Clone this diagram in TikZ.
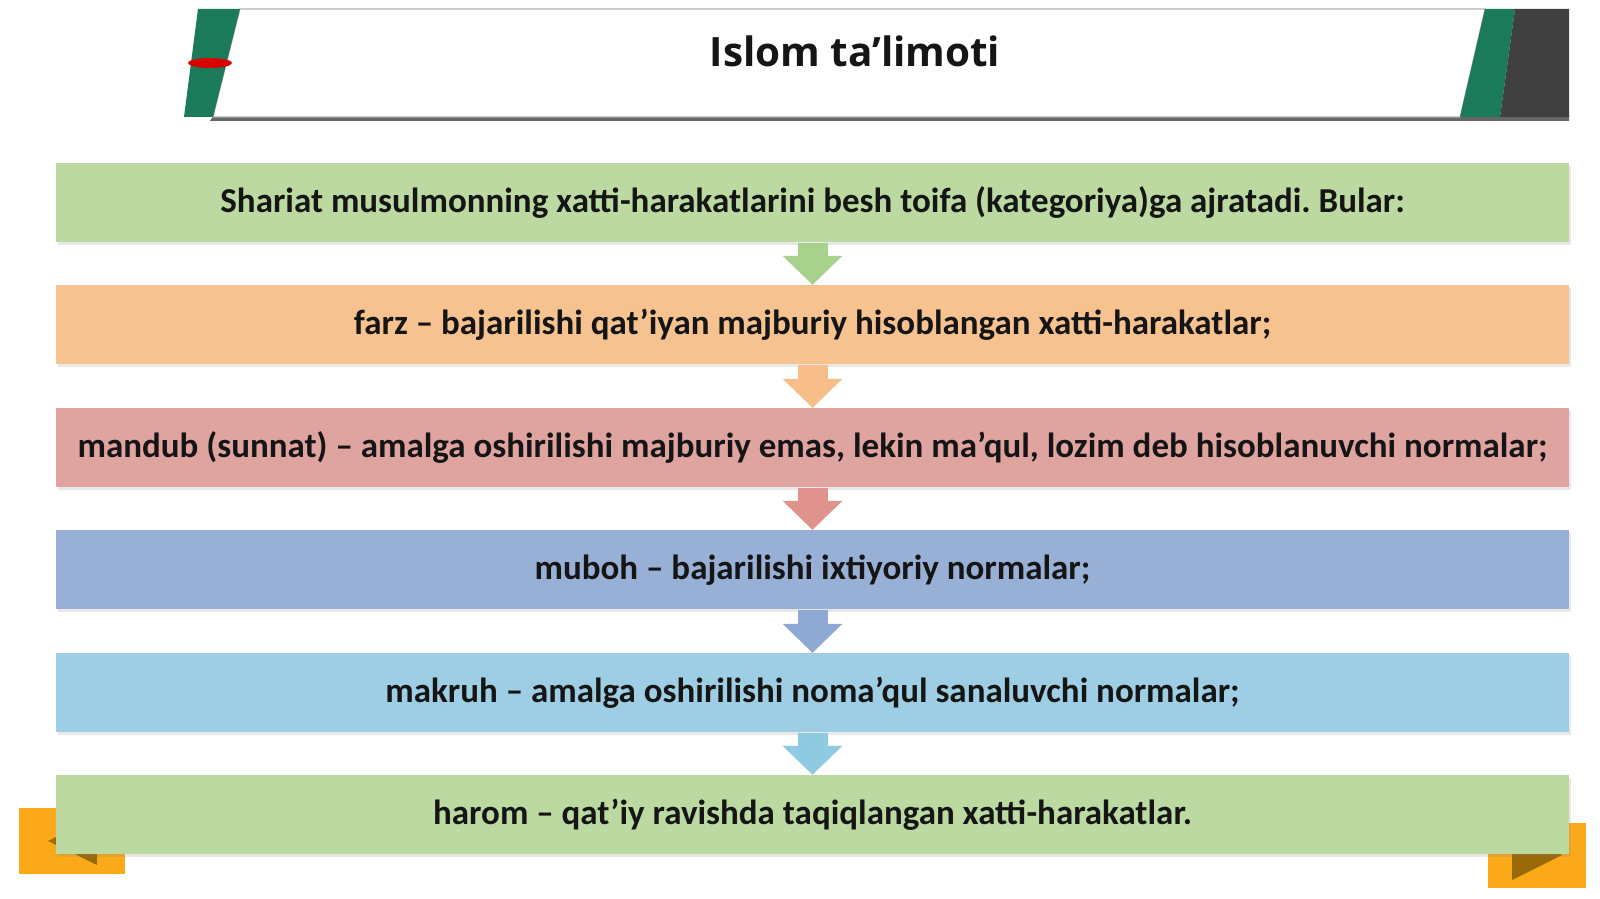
\documentclass[tikz,border=0pt]{standalone}
\usepackage{fontspec}
\setmainfont{Carlito}
\newfontfamily\titlefont{Open Sans}
\usetikzlibrary{arrows.meta,shadows}
\frenchspacing

\definecolor{barGreen}{HTML}{BBD9A0}
\definecolor{barOrange}{HTML}{F6C290}
\definecolor{barRed}{HTML}{DFA3A0}
\definecolor{barBlue}{HTML}{98AFD6}
\definecolor{barSky}{HTML}{9ECEE3}
\definecolor{arrGreen}{HTML}{A9D18E}
\definecolor{arrOrange}{HTML}{F7BE8A}
\definecolor{arrRed}{HTML}{E0938C}
\definecolor{arrBlue}{HTML}{8EA9D3}
\definecolor{arrSky}{HTML}{8FC9E2}
\definecolor{bandGreen}{HTML}{1B7A5A}
\definecolor{bandDark}{HTML}{404040}
\definecolor{btnOrange}{HTML}{FBA919}
\definecolor{btnDark}{HTML}{9A6A08}
\definecolor{txt}{HTML}{151515}

\tikzset{
  bar/.style={fill=#1, minimum width=15.13cm, minimum height=0.79cm, inner sep=0pt,
    text=txt, font=\bfseries\fontsize{9.95}{11}\selectfont,
    drop shadow={opacity=.18, shadow xshift=.02cm, shadow yshift=-.03cm}},
  flow/.style={draw=#1, line width=0.30cm,
    -{Triangle[length=0.29cm, width=0.60cm, line width=0pt]}},
}

\begin{document}
\begin{tikzpicture}
    \useasboundingbox (0,0) rectangle (16,8.99);
    \fill[white] (0,0) rectangle (16,8.99);
    % title band
    \fill[black!60] (2.10,7.78) -- (15.69,7.78) -- (15.69,7.84) -- (2.14,7.84) -- cycle;
    \fill[white, draw=black!30, line width=0.3pt] (2.40,8.90) -- (14.85,8.90) -- (14.60,7.82) -- (2.13,7.82) -- cycle;
    \fill[bandGreen] (1.98,8.90) -- (2.40,8.90) -- (2.13,7.82) -- (1.84,7.82) -- cycle;
    \fill[bandGreen] (14.85,8.90) -- (15.15,8.90) -- (15.00,7.82) -- (14.60,7.82) -- cycle;
    \fill[bandDark] (15.15,8.90) -- (15.69,8.90) -- (15.69,7.82) -- (15.00,7.82) -- cycle;
    \fill[red!85!black] (2.10,8.36) ellipse (0.22 and 0.05);
    \node[font=\titlefont\bfseries\fontsize{11.5}{13}\selectfont, text=txt] (title) at (8.55,8.48) {Islom ta’limoti};
    % buttons
    \fill[btnOrange] (0.19,0.25) rectangle (1.25,0.91);
    \fill[btnDark] (0.48,0.58) -- (0.97,0.82) -- (0.97,0.34) -- cycle;
    \fill[btnOrange] (14.88,0.11) rectangle (15.86,0.76);
    \fill[btnDark] (15.12,0.69) -- (15.12,0.19) -- (15.62,0.44) -- cycle;
    % bars
    \node[bar=barGreen] (b1) at (8.125,6.96) {Shariat musulmonning xatti-harakatlarini besh toifa (kategoriya)ga ajratadi. Bular:};
    \node[bar=barOrange] (b2) at (8.125,5.74) {farz – bajarilishi qat’iyan majburiy hisoblangan xatti-harakatlar;};
    \node[bar=barRed] (b3) at (8.125,4.51) {mandub (sunnat) – amalga oshirilishi majburiy emas, lekin ma’qul, lozim deb hisoblanuvchi normalar;};
    \node[bar=barBlue] (b4) at (8.125,3.29) {muboh – bajarilishi ixtiyoriy normalar;};
    \node[bar=barSky] (b5) at (8.125,2.06) {makruh – amalga oshirilishi noma’qul sanaluvchi normalar;};
    \node[bar=barGreen] (b6) at (8.125,0.84) {harom – qat’iy ravishda taqiqlangan xatti-harakatlar.};
    % arrows
    \draw[flow=arrGreen] (b1.south) -- (b2.north);
    \draw[flow=arrOrange] (b2.south) -- (b3.north);
    \draw[flow=arrRed] (b3.south) -- (b4.north);
    \draw[flow=arrBlue] (b4.south) -- (b5.north);
    \draw[flow=arrSky] (b5.south) -- (b6.north);
\end{tikzpicture}
\end{document}
